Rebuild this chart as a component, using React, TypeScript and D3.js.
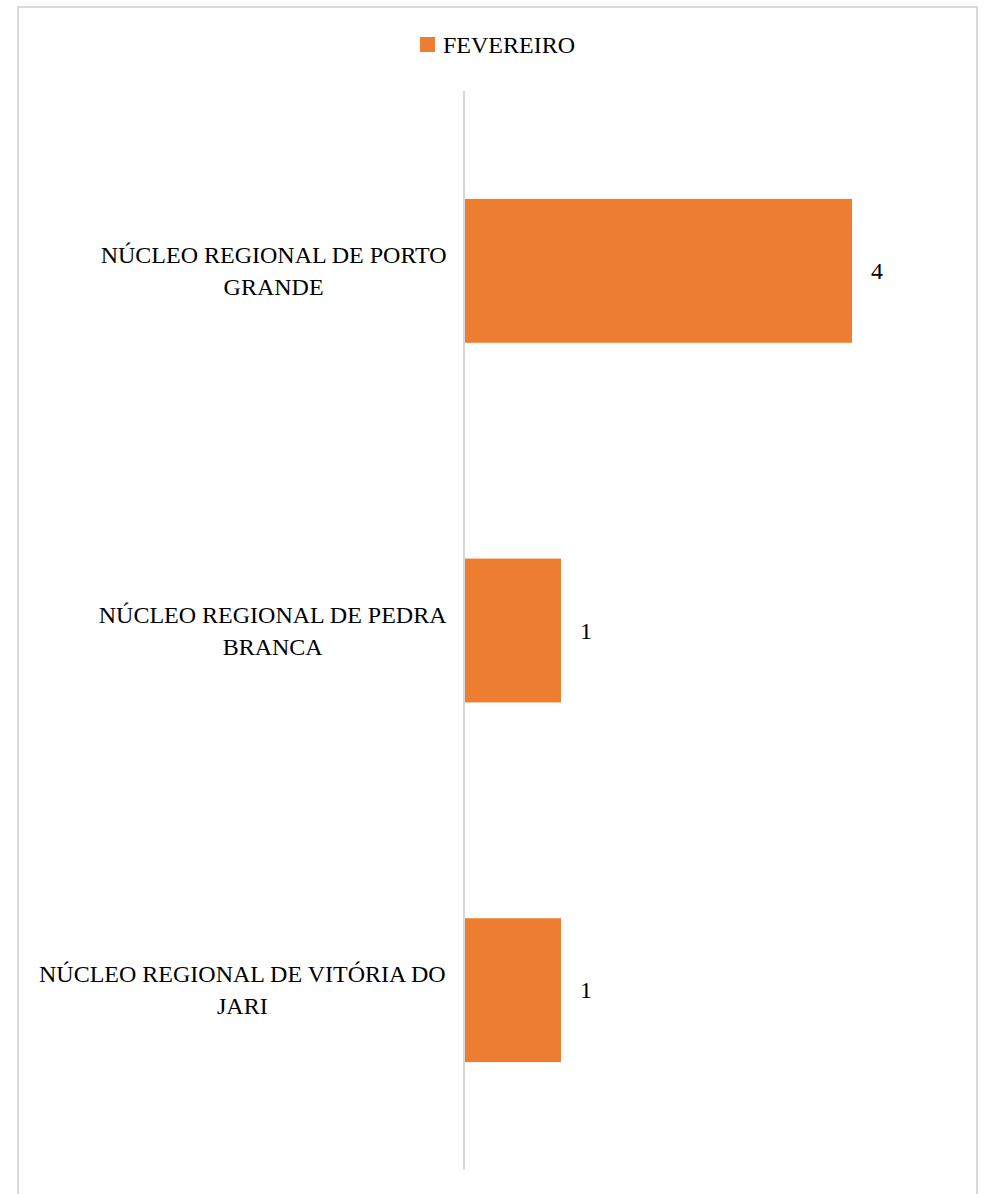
import React from "react";
import * as d3 from "d3";

const categories: string[][] = [
  ["NÚCLEO REGIONAL DE PORTO", "GRANDE"],
  ["NÚCLEO REGIONAL DE PEDRA", "BRANCA"],
  ["NÚCLEO REGIONAL DE VITÓRIA DO", "JARI"],
];
const values: number[] = [4, 1, 1];
const seriesName = "FEVEREIRO";
const xMax = 5;

const W = 984;
const H = 1194;
const FONT = '"Liberation Serif"';
const FS = 24;
const ORANGE = "#ED7D31";

function measure(s: string): number {
  const c = document.createElement("canvas").getContext("2d");
  if (!c) return s.length * 13;
  c.font = `${FS}px "Liberation Serif"`;
  return c.measureText(s).width;
}

export default function App() {
  const x0 = 464;
  const x = d3.scaleLinear().domain([0, xMax]).range([x0, x0 + 97 * xMax]);
  const y = d3
    .scaleBand<number>()
    .domain(d3.range(categories.length))
    .range([91, 1170])
    .paddingInner(0.6)
    .paddingOuter(0.3);
  const rightEdge = 447;
  const lineH = 32;
  const textStyle = { fontFamily: FONT, fontSize: FS } as React.CSSProperties;

  return (
    <svg width={W} height={H} style={{ position: "absolute", left: 0, top: 0, background: "white" }}>
      <rect x={18} y={7} width={959} height={1200} fill="white" stroke="#d9d9d9" strokeWidth={2} />
      {values.map((v, i) => (
        <rect key={"b" + i} x={x(0) + 1} y={y(i)} width={x(v) - x(0) - 1} height={y.bandwidth()} fill={ORANGE} />
      ))}
      <line x1={x(0)} x2={x(0)} y1={91} y2={1170} stroke="#d9d9d9" strokeWidth={2} />
      {values.map((v, i) => (
        <text key={"v" + i} x={x(v) + 19} y={y(i)! + y.bandwidth() / 2 + 8} style={textStyle} fill="#000">
          {v}
        </text>
      ))}
      {categories.map((lines, i) => {
        const cy = y(i)! + y.bandwidth() / 2;
        const maxW = d3.max(lines, (l) => measure(l)) || 0;
        const cx = rightEdge - maxW / 2;
        return (
          <g key={"c" + i}>
            {lines.map((ln, j) => (
              <text
                key={j}
                x={cx}
                y={cy - ((lines.length - 1) * lineH) / 2 + j * lineH + 8}
                textAnchor="middle"
                style={textStyle}
                fill="#000"
              >
                {ln}
              </text>
            ))}
          </g>
        );
      })}
      <rect x={420} y={37} width={15} height={15} fill={ORANGE} />
      <text x={443} y={53} style={textStyle} fill="#000">
        {seriesName}
      </text>
    </svg>
  );
}
